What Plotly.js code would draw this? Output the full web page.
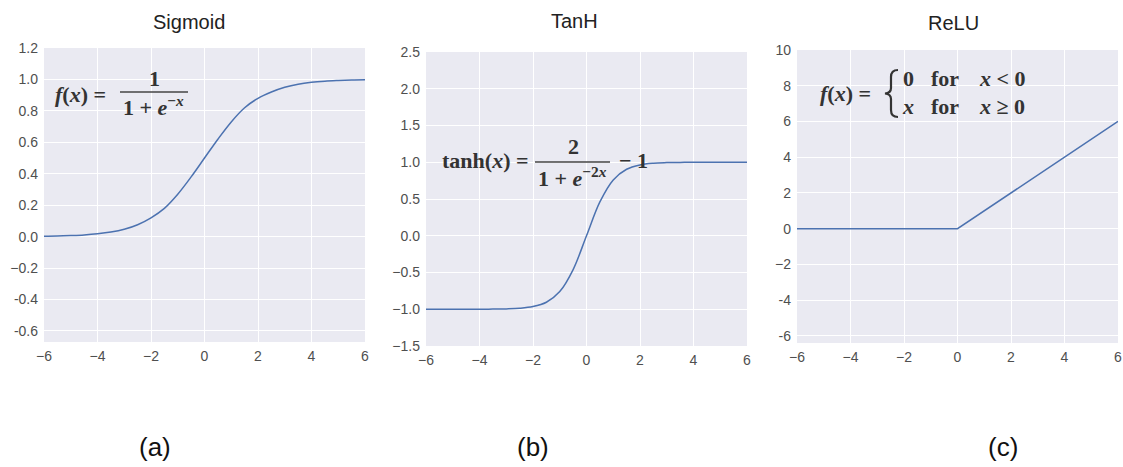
<!DOCTYPE html>
<html>
<head>
<meta charset="utf-8">
<script src="https://cdn.plot.ly/plotly-3.0.1.min.js"></script>
<style>html,body{margin:0;padding:0;background:#fff;}#chart{width:1123px;height:467px;}</style>
</head>
<body>
<div id="chart"></div>
<script>
// ---- data ----
const sigmoidX = [-6,-5.5,-5,-4.5,-4,-3.5,-3,-2.5,-2,-1.5,-1,-0.5,0,0.5,1,1.5,2,2.5,3,3.5,4,4.5,5,5.5,6];
const sigmoidY = [0.0025,0.004,0.007,0.011,0.018,0.029,0.047,0.076,0.12,0.18,0.27,0.38,0.5,0.62,0.73,0.82,0.88,0.92,0.95,0.97,0.982,0.989,0.993,0.996,0.9975];
const tanhX = [-6,-5,-4,-3.5,-3,-2.5,-2,-1.5,-1,-0.5,0,0.5,1,1.5,2,2.5,3,3.5,4,5,6];
const tanhY = [-1,-1,-0.999,-0.998,-0.995,-0.987,-0.964,-0.905,-0.76,-0.46,0,0.46,0.76,0.905,0.964,0.987,0.995,0.998,0.999,1,1];
const reluX = [-6,0,6];
const reluY = [0,0,6];

const xTickVals = [-6,-4,-2,0,2,4,6];
const xTickText = ["\u22126","\u22124","\u22122","0","2","4","6"];
const sigTickVals = [-0.6,-0.4,-0.2,0,0.2,0.4,0.6,0.8,1.0,1.2];
const sigTickText = ["-0.6","-0.4","\u22120.2","0.0","0.2","0.4","0.6","0.8","1.0","1.2"];
const tanhTickVals = [-1.5,-1,-0.5,0,0.5,1,1.5,2,2.5];
const tanhTickText = ["\u22121.5","\u22121.0","\u22120.5","0.0","0.5","1.0","1.5","2.0","2.5"];
const reluTickVals = [-6,-4,-2,0,2,4,6,8,10];
const reluTickText = ["-6","-4","\u22122","0","2","4","6","8","10"];

const titles = ["Sigmoid","TanH","ReLU"];
const panelLabels = ["(a)","(b)","(c)"];

// ---- layout helpers ----
const W = 1123, H = 467;
const px = x => x / W;
const py = y => 1 - y / H;
const LINE = '#4C72B0';
const BG = '#EAEAF2';

const traces = [
  {x: sigmoidX, y: sigmoidY, xaxis:'x', yaxis:'y', mode:'lines', line:{color:LINE, width:1.5, shape:'spline'}, hoverinfo:'skip'},
  {x: tanhX, y: tanhY, xaxis:'x2', yaxis:'y2', mode:'lines', line:{color:LINE, width:1.5, shape:'spline'}, hoverinfo:'skip'},
  {x: reluX, y: reluY, xaxis:'x3', yaxis:'y3', mode:'lines', line:{color:LINE, width:1.5}, hoverinfo:'skip'}
];

const tickFont = {family:'Liberation Sans, Arial, sans-serif', size:14, color:'#4f4f4f'};
function xa(domain, anchor){
  return {domain: domain, anchor: anchor, range:[-6,6], tickvals:xTickVals, ticktext:xTickText,
    showgrid:true, gridcolor:'#fff', gridwidth:1, zeroline:false, showline:false, ticks:'',
    tickfont:tickFont, ticklabelstandoff:4, fixedrange:true};
}
function ya(domain, anchor, range, tv, tt){
  return {domain: domain, anchor: anchor, range:range, tickvals:tv, ticktext:tt,
    showgrid:true, gridcolor:'#fff', gridwidth:1, zeroline:false, showline:false, ticks:'',
    tickfont:tickFont, ticklabelstandoff:5, fixedrange:true};
}

const serif = 'Liberation Serif, Times New Roman, serif';
const fFont = {family: serif, size: 22, color:'#333'};
function ann(text, x, y, opts){
  return Object.assign({text:text, x:px(x), y:py(y), xref:'paper', yref:'paper', showarrow:false,
    xanchor:'center', yanchor:'middle', font:fFont}, opts||{});
}
const sansTitle = {family:'Liberation Sans, Arial, sans-serif', size:20, color:'#222'};
const sansLabel = {family:'Liberation Sans, Arial, sans-serif', size:26, color:'#111'};

const annotations = [
  // titles
  ann(titles[0], 189, 22, {font:sansTitle}),
  ann(titles[1], 574, 21, {font:sansTitle}),
  ann(titles[2], 953, 23, {font:sansTitle}),
  // panel labels
  ann(panelLabels[0], 155, 447, {font:sansLabel}),
  ann(panelLabels[1], 533, 447, {font:sansLabel}),
  ann(panelLabels[2], 1003, 447, {font:sansLabel}),
  // sigmoid formula
  ann('<b><i>f</i>(<i>x</i>) =</b>', 53, 95, {xanchor:'left'}),
  ann('<b>1</b>', 154, 79),
  ann('<b>1 + <i>e</i><sup>\u2212<i>x</i></sup></b>', 153, 106),
  // tanh formula
  ann('<b>tanh(<i>x</i>) =</b>', 440, 161, {xanchor:'left'}),
  ann('<b>2</b>', 573, 147),
  ann('<b>1 + <i>e</i><sup>\u22122<i>x</i></sup></b>', 572, 177),
  ann('<b>\u2212 1</b>', 617, 161, {xanchor:'left'}),
  // relu formula
  ann('<b><i>f</i>(<i>x</i>) =</b>', 818, 94, {xanchor:'left'}),
  ann('<b>0</b>', 908, 79),
  ann('<b>for</b>', 945, 79),
  ann('<b><i>x</i> &lt; 0</b>', 977, 79, {xanchor:'left'}),
  ann('<b><i>x</i></b>', 908, 107),
  ann('<b>for</b>', 945, 107),
  ann('<b><i>x</i> \u2265 0</b>', 977, 107, {xanchor:'left'})
];

// curly brace for the ReLU piecewise definition (paper coordinates)
function bracePath(){
  const P = (x, y) => px(x) + ',' + py(y);
  return 'M' + P(898, 70) +
    ' Q' + P(891, 70) + ' ' + P(891, 77) +
    ' L' + P(891, 88) +
    ' Q' + P(891, 93) + ' ' + P(885, 93.5) +
    ' Q' + P(891, 94) + ' ' + P(891, 99) +
    ' L' + P(891, 110) +
    ' Q' + P(891, 117) + ' ' + P(898, 117);
}

const shapes = [
  {type:'line', xref:'paper', yref:'paper', x0:px(120), x1:px(188), y0:py(92), y1:py(92), line:{color:'#444', width:1.5}},
  {type:'line', xref:'paper', yref:'paper', x0:px(535), x1:px(610), y0:py(162), y1:py(162), line:{color:'#444', width:1.5}},
  {type:'path', xref:'paper', yref:'paper', path: bracePath(), line:{color:'#333', width:2.2}}
];

const layout = {
  width: W, height: H,
  margin:{l:0, r:0, t:0, b:0},
  paper_bgcolor:'#fff', plot_bgcolor: BG,
  showlegend:false,
  xaxis: xa([px(44), px(365)], 'y'),
  yaxis: ya([py(342), py(48)], 'x', [-0.67, 1.2], sigTickVals, sigTickText),
  xaxis2: xa([px(426), px(747)], 'y2'),
  yaxis2: ya([py(346), py(52)], 'x2', [-1.5, 2.5], tanhTickVals, tanhTickText),
  xaxis3: xa([px(797), px(1118)], 'y3'),
  yaxis3: ya([py(343), py(50)], 'x3', [-6.4, 10], reluTickVals, reluTickText),
  annotations: annotations,
  shapes: shapes
};

Plotly.newPlot('chart', traces, layout, {displayModeBar:false, staticPlot:true});
</script>
</body>
</html>
